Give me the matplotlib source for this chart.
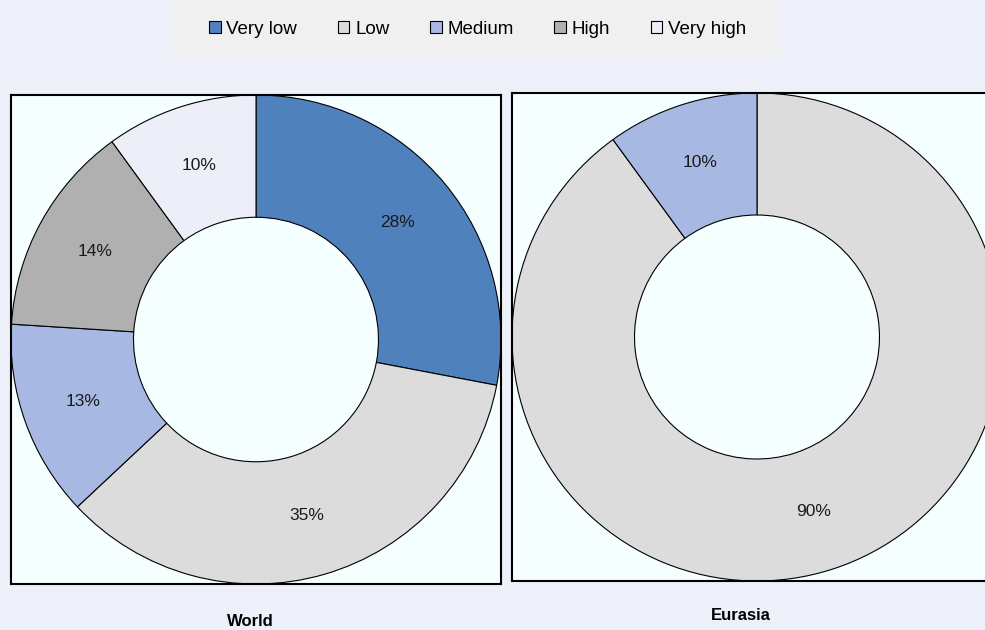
import matplotlib.pyplot as plt
from matplotlib.patches import Patch, Rectangle

plt.rcParams['font.family'] = ['Liberation Sans', 'DejaVu Sans']

# Share of population by risk level
categories = ['Very low', 'Low', 'Medium', 'High', 'Very high']
colors = ['#4f81bd', '#dcdcdc', '#a7b9e3', '#b0b0b0', '#eceff8']

world_values = [28, 35, 13, 14, 10]
eurasia_values = [0, 90, 10, 0, 0]

panel_titles = ['World', 'Eurasia']

fig_bg = '#edf0f8'
panel_bg = '#f5ffff'

fig = plt.figure(figsize=(9.85, 6.3), dpi=100, facecolor=fig_bg)

# legend strip across the top
fig.patches.append(Rectangle((172 / 985, 1 - 57 / 630), 608 / 985, 57 / 630,
                             transform=fig.transFigure, facecolor='#f0f0f0',
                             edgecolor='none', zorder=0))
handles = [Patch(facecolor=c, edgecolor='black', linewidth=0.8) for c in colors]
fig.legend(handles, categories, loc='center', bbox_to_anchor=(0.485, 1 - 29 / 630),
           ncol=5, frameon=False, fontsize=13.5, handlelength=0.62, handleheight=0.62,
           handletextpad=0.3, columnspacing=2.17, borderaxespad=0)


def draw_donut(rect, values, title, title_xy):
    ax = fig.add_axes(rect)
    vals = [v for v in values if v > 0]
    cols = [c for v, c in zip(values, colors) if v > 0]
    ax.pie(vals, colors=cols, startangle=90, counterclock=False, radius=1.0,
           autopct=lambda p: f'{p:.0f}%', pctdistance=0.75, frame=True,
           wedgeprops=dict(width=0.5, edgecolor='black', linewidth=0.8),
           textprops=dict(fontsize=12.5, color='#1a1a1a'))
    ax.set_facecolor(panel_bg)
    ax.set_xlim(-1, 1)
    ax.set_ylim(-1, 1)
    ax.set_aspect('auto')
    ax.set_xticks([])
    ax.set_yticks([])
    for s in ax.spines.values():
        s.set_visible(True)
        s.set_linewidth(1.5)
        s.set_color('black')
    fig.text(title_xy[0], title_xy[1], title, ha='center', va='center',
             fontsize=12, fontweight='bold')
    return ax


draw_donut([11 / 985, 46 / 630, 490 / 985, 489 / 630], world_values,
           panel_titles[0], (250 / 985, 1 - 621 / 630))
draw_donut([512 / 985, 49 / 630, 490 / 985, 488 / 630], eurasia_values,
           panel_titles[1], (741 / 985, 1 - 616 / 630))

fig.savefig('out.png', dpi=100, facecolor=fig_bg)
